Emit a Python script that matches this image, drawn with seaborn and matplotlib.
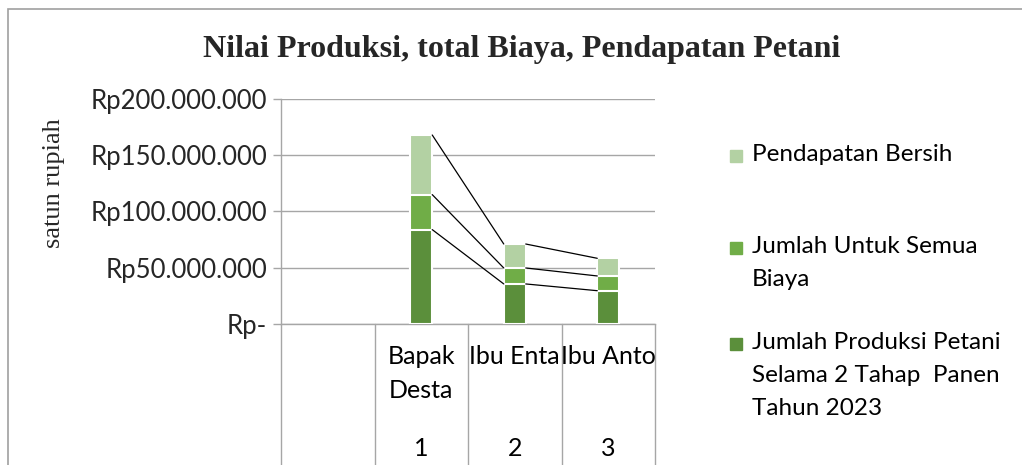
import textwrap
import numpy as np
import pandas as pd
import seaborn as sns
import matplotlib
matplotlib.use("Agg")
import matplotlib.pyplot as plt
from matplotlib.patches import Rectangle

# ---------------- data ----------------
petani = ["Bapak Desta", "Ibu Enta", "Ibu Anto"]
nomor = ["1", "2", "3"]
produksi = [83.9e6, 35.6e6, 29.6e6]     # Jumlah Produksi Petani ...
biaya = [31.1e6, 14.2e6, 13.1e6]        # Jumlah Untuk Semua Biaya
pendapatan = [53.0e6, 21.3e6, 15.7e6]   # Pendapatan Bersih
series_labels = [
    "Pendapatan Bersih",
    "Jumlah Untuk Semua\nBiaya",
    "Jumlah Produksi Petani\nSelama 2 Tahap  Panen\nTahun 2023",
]
ytick_values = [0, 50e6, 100e6, 150e6, 200e6]
title = "Nilai Produksi, total Biaya, Pendapatan Petani"
ylabel = "satun rupiah"

# ---------------- style ----------------
sns.set_theme(style="white")
plt.rcParams["font.family"] = ["Lato", "DejaVu Sans"]

c_dark = "#5B8F3B"
c_mid = "#70AD47"
c_light = "#B3D1A3"
grid_c = "#A6A6A6"
FS_TICK = 18.5
FS_CAT = 18
FS_LEG = 17.5

df = pd.DataFrame({"petani": petani, "produksi": produksi,
                   "biaya": biaya, "pendapatan": pendapatan})
df["lvl2"] = df["produksi"] + df["biaya"]
df["lvl3"] = df["lvl2"] + df["pendapatan"]
order = [""] + petani
W = 0.235

fig = plt.figure(figsize=(10.22, 4.65), dpi=100)
ax = fig.add_axes([281 / 1022, 1 - 324 / 465, (655 - 281) / 1022, (324 - 99) / 465])

for col, color in [("lvl3", c_light), ("lvl2", c_mid), ("produksi", c_dark)]:
    sns.barplot(data=df, x="petani", y=col, order=order, color=color,
                width=W, edgecolor="white", linewidth=1.5, saturation=1,
                errorbar=None, ax=ax, zorder=3)

# series lines
for col in ["produksi", "lvl2", "lvl3"]:
    vals = df[col].to_numpy()
    for i in range(len(vals) - 1):
        ax.plot([i + 1 + W / 2, i + 2 - W / 2], [vals[i], vals[i + 1]],
                color="black", lw=0.9, zorder=4)

ax.set_xlim(-0.5, 3.5)
ax.set_ylim(0, 200e6)
ax.set_yticks(ytick_values)
ax.set_yticklabels(["Rp-" if v == 0 else "Rp" + f"{int(v):,}".replace(",", ".")
                    for v in ytick_values], fontsize=FS_TICK)
ax.tick_params(axis="y", length=6, width=1, color=grid_c, pad=4, left=True)
ax.set_xticks([])
ax.set_xlabel("")
ax.set_ylabel(ylabel, family=["Liberation Serif"], fontsize=19)
ax.yaxis.set_label_coords(-0.578, 0.627)
ax.grid(axis="y", color=grid_c, lw=1, zorder=0)
ax.grid(axis="x", visible=False)
for s in ["top", "right"]:
    ax.spines[s].set_visible(False)
for s in ["left", "bottom"]:
    ax.spines[s].set_color(grid_c)
    ax.spines[s].set_linewidth(1)

# multi-level category axis
tr = ax.get_xaxis_transform()
for b in np.arange(-0.5, len(order), 1.0):
    ax.plot([b, b], [0, -0.7], transform=tr, clip_on=False, color=grid_c, lw=1)
for i, (name, num) in enumerate(zip(petani, nomor)):
    ax.text(i + 1, -0.095, textwrap.fill(name, 9), transform=tr, ha="center",
            va="top", fontsize=FS_CAT, linespacing=1.56, color="black")
    ax.text(i + 1, -0.555, num, transform=tr, ha="center", va="center",
            fontsize=FS_CAT, color="black")

# title
fig.text(0.51, 1 - 49 / 465, title, ha="center", va="center",
         family=["Liberation Serif"], fontweight="bold", fontsize=23)

# legend (manual, Excel-like vertical distribution)
colors_leg = [c_light, c_mid, c_dark]
first_line_y = [157, 249, 345]
for lab, col, yy in zip(series_labels, colors_leg, first_line_y):
    fig.patches.append(Rectangle((730 / 1022, 1 - (yy + 5) / 465), 12 / 1022, 12 / 465,
                                 transform=fig.transFigure, color=col))
    fig.text(752 / 1022, 1 - (yy - 13) / 465, lab, ha="left", va="top",
             fontsize=FS_LEG, linespacing=1.7, color="black")

# outer chart border
fig.patches.append(Rectangle((8 / 1022, -0.1), 1.2, 1.1 - 9 / 465,
                             transform=fig.transFigure, fill=False,
                             edgecolor="#A0A0A0", lw=1.2))

fig.savefig("out.png", dpi=100)
